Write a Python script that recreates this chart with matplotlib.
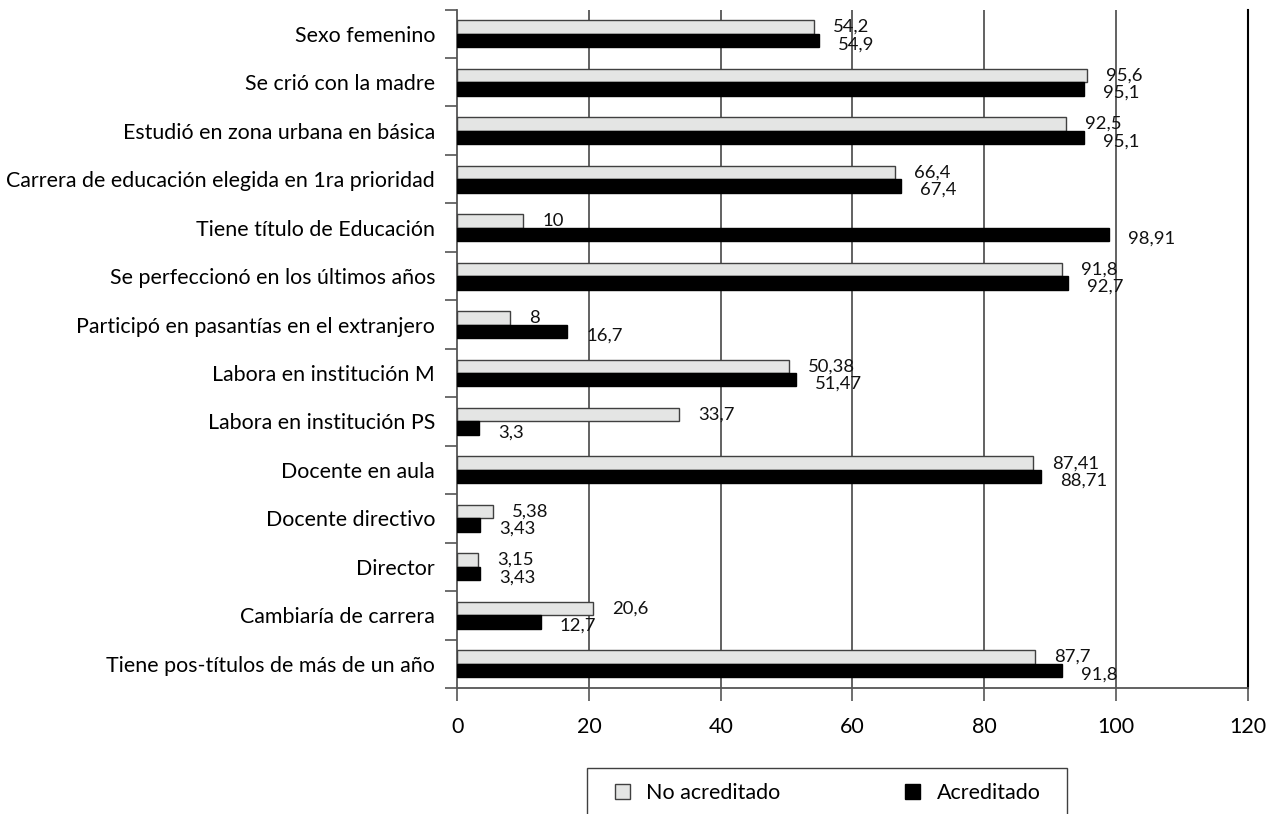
import matplotlib
matplotlib.use("Agg")
import matplotlib.pyplot as plt
import numpy as np
from matplotlib.patches import Patch, Rectangle

plt.rcParams['font.family'] = ['Lato', 'DejaVu Sans']

categorias = [
    "Sexo femenino",
    "Se crió con la madre",
    "Estudió en zona urbana en básica",
    "Carrera de educación elegida en 1ra prioridad",
    "Tiene título de Educación",
    "Se perfeccionó en los últimos años",
    "Participó en pasantías en el extranjero",
    "Labora en institución M",
    "Labora en institución PS",
    "Docente en aula",
    "Docente directivo",
    "Director",
    "Cambiaría de carrera",
    "Tiene pos-títulos de más de un año",
]
no_acreditado = [54.2, 95.6, 92.5, 66.4, 10, 91.8, 8, 50.38, 33.7, 87.41, 5.38, 3.15, 20.6, 87.7]
acreditado = [54.9, 95.1, 95.1, 67.4, 98.91, 92.7, 16.7, 51.47, 3.3, 88.71, 3.43, 3.43, 12.7, 91.8]
xticks = [0, 20, 40, 60, 80, 100, 120]

gris = "#e4e5e4"
borde = "#404040"

fig = plt.figure(figsize=(12.71, 8.14), dpi=100)
ax = fig.add_axes([457.3 / 1271, 1 - 688 / 814, 790.2 / 1271, 678.5 / 814])

y = np.arange(len(categorias))
h = 0.278
ax.barh(y - h / 2, no_acreditado, height=h, color=gris, edgecolor=borde, linewidth=1, zorder=3)
ax.barh(y + h / 2, acreditado, height=h, color="black", edgecolor="black", linewidth=1, zorder=3)

def etiqueta(v):
    return f"{v:g}".replace(".", ",")

for i in range(len(categorias)):
    ax.annotate(etiqueta(no_acreditado[i]), (no_acreditado[i], y[i] - h / 2),
                xytext=(19, 0), textcoords="offset pixels",
                ha="left", va="center", fontsize=13.3, color="#111111")
    ax.annotate(etiqueta(acreditado[i]), (acreditado[i], y[i] + h / 2),
                xytext=(19, -4), textcoords="offset pixels",
                ha="left", va="center", fontsize=13.3, color="#111111")

ax.set_xlim(0, 120)
ax.set_ylim(len(categorias) - 0.5, -0.5)

# grilla vertical
for t in xticks[1:-1]:
    ax.axvline(t, color="#555555", linewidth=1.3, zorder=1)

ax.set_xticks(xticks)
ax.tick_params(axis="x", length=9, width=1.2, color="#555555", pad=12, labelsize=15.5)

ax.set_yticks(np.arange(-0.5, len(categorias), 1))
ax.set_yticklabels([])
ax.set_yticks(y, minor=True)
ax.set_yticklabels(categorias, minor=True)
ax.tick_params(axis="y", which="major", length=9, width=1.2, color="#555555")
ax.tick_params(axis="y", which="minor", length=0, pad=16, labelsize=15.4)

ax.spines["top"].set_visible(False)
ax.spines["left"].set_color("#555555")
ax.spines["left"].set_linewidth(1.3)
ax.spines["bottom"].set_color("#555555")
ax.spines["bottom"].set_linewidth(1.3)
ax.spines["right"].set_color("black")
ax.spines["right"].set_linewidth(1.5)

# leyenda
fig.patches.append(Rectangle((587 / 1271, 1 - 830 / 814), 480 / 1271, 62 / 814,
                             transform=fig.transFigure, facecolor="white",
                             edgecolor=borde, linewidth=1, clip_on=False))
handles = [Patch(facecolor=gris, edgecolor=borde, linewidth=1, label="No acreditado"),
           Patch(facecolor="black", edgecolor="black", linewidth=1, label="Acreditado")]
fig.legend(handles=handles, loc="center left", bbox_to_anchor=(615 / 1271, 1 - 793 / 814),
           ncol=2, frameon=False, fontsize=15.5, borderpad=0, borderaxespad=0,
           handlelength=0.7, handleheight=0.7, handletextpad=0.75, columnspacing=5.8)

fig.savefig("out.png", dpi=100)
